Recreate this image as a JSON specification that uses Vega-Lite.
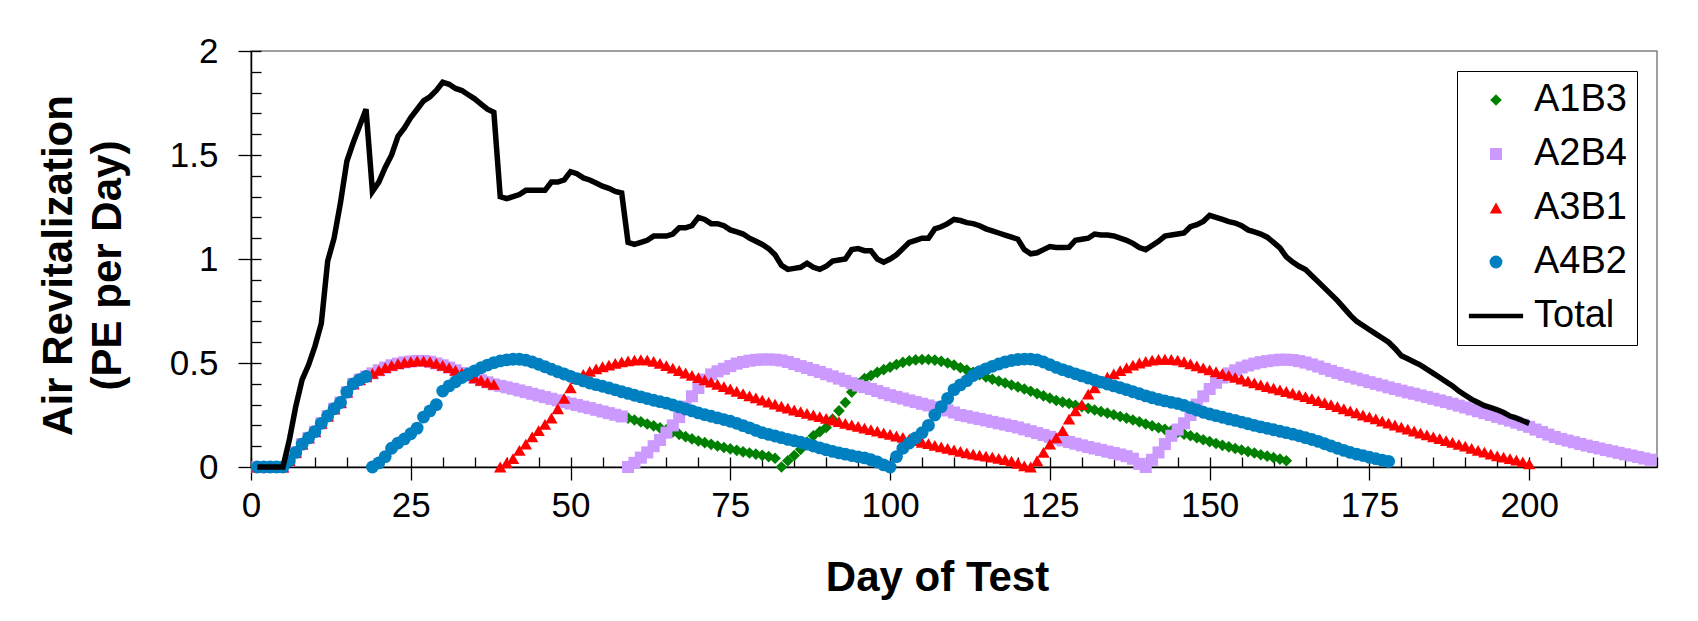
{
"$schema":"https://vega.github.io/schema/vega-lite/v6.json",
"width":1406,"height":416,
"autosize":{"type":"none"},
"padding":{"left":251,"top":51,"right":41,"bottom":154},
"background":"white",
"config":{"view":{"stroke":"#808080","strokeWidth":1.5},"font":"Liberation Sans"},
"datasets":{
"points":[
{"series":"A1B3","day":1,"value":0},{"series":"A1B3","day":2,"value":0},{"series":"A1B3","day":3,"value":0},{"series":"A1B3","day":4,"value":0},{"series":"A1B3","day":5,"value":0},{"series":"A1B3","day":6,"value":0.03},{"series":"A1B3","day":7,"value":0.07},{"series":"A1B3","day":8,"value":0.11},{"series":"A1B3","day":9,"value":0.14},{"series":"A1B3","day":10,"value":0.17},{"series":"A1B3","day":11,"value":0.21},{"series":"A1B3","day":12,"value":0.245},{"series":"A1B3","day":13,"value":0.28},{"series":"A1B3","day":14,"value":0.31},{"series":"A1B3","day":15,"value":0.36},{"series":"A1B3","day":16,"value":0.4},{"series":"A1B3","day":17,"value":0.42},{"series":"A1B3","day":18,"value":0.435},{"series":"A1B3","day":19,"value":0.45},{"series":"A1B3","day":20,"value":0.465},{"series":"A1B3","day":21,"value":0.478},{"series":"A1B3","day":22,"value":0.489},{"series":"A1B3","day":23,"value":0.497},{"series":"A1B3","day":24,"value":0.503},{"series":"A1B3","day":25,"value":0.507},{"series":"A1B3","day":26,"value":0.51},{"series":"A1B3","day":27,"value":0.51},{"series":"A1B3","day":28,"value":0.506},{"series":"A1B3","day":29,"value":0.498},{"series":"A1B3","day":30,"value":0.489},{"series":"A1B3","day":31,"value":0.478},{"series":"A1B3","day":32,"value":0.465},{"series":"A1B3","day":33,"value":0.452},{"series":"A1B3","day":34,"value":0.44},{"series":"A1B3","day":35,"value":0.428},{"series":"A1B3","day":36,"value":0.417},{"series":"A1B3","day":37,"value":0.407},{"series":"A1B3","day":38,"value":0.397},{"series":"A1B3","day":39,"value":0.39},{"series":"A1B3","day":40,"value":0.383},{"series":"A1B3","day":41,"value":0.376},{"series":"A1B3","day":42,"value":0.368},{"series":"A1B3","day":43,"value":0.36},{"series":"A1B3","day":44,"value":0.352},{"series":"A1B3","day":45,"value":0.344},{"series":"A1B3","day":46,"value":0.336},{"series":"A1B3","day":47,"value":0.328},{"series":"A1B3","day":48,"value":0.32},{"series":"A1B3","day":49,"value":0.312},{"series":"A1B3","day":50,"value":0.305},{"series":"A1B3","day":51,"value":0.298},{"series":"A1B3","day":52,"value":0.29},{"series":"A1B3","day":53,"value":0.283},{"series":"A1B3","day":54,"value":0.275},{"series":"A1B3","day":55,"value":0.267},{"series":"A1B3","day":56,"value":0.259},{"series":"A1B3","day":57,"value":0.251},{"series":"A1B3","day":58,"value":0.243},{"series":"A1B3","day":59,"value":0.235},{"series":"A1B3","day":60,"value":0.226},{"series":"A1B3","day":61,"value":0.217},{"series":"A1B3","day":62,"value":0.207},{"series":"A1B3","day":63,"value":0.198},{"series":"A1B3","day":64,"value":0.188},{"series":"A1B3","day":65,"value":0.179},{"series":"A1B3","day":66,"value":0.168},{"series":"A1B3","day":67,"value":0.157},{"series":"A1B3","day":68,"value":0.146},{"series":"A1B3","day":69,"value":0.135},{"series":"A1B3","day":70,"value":0.125},{"series":"A1B3","day":71,"value":0.117},{"series":"A1B3","day":72,"value":0.109},{"series":"A1B3","day":73,"value":0.101},{"series":"A1B3","day":74,"value":0.094},{"series":"A1B3","day":75,"value":0.087},{"series":"A1B3","day":76,"value":0.08},{"series":"A1B3","day":77,"value":0.073},{"series":"A1B3","day":78,"value":0.067},{"series":"A1B3","day":79,"value":0.062},{"series":"A1B3","day":80,"value":0.056},{"series":"A1B3","day":81,"value":0.05},{"series":"A1B3","day":82,"value":0.042},{"series":"A1B3","day":83,"value":0},{"series":"A1B3","day":84,"value":0.03},{"series":"A1B3","day":85,"value":0.055},{"series":"A1B3","day":86,"value":0.085},{"series":"A1B3","day":87,"value":0.12},{"series":"A1B3","day":88,"value":0.15},{"series":"A1B3","day":89,"value":0.17},{"series":"A1B3","day":90,"value":0.19},{"series":"A1B3","day":91,"value":0.23},{"series":"A1B3","day":92,"value":0.27},{"series":"A1B3","day":93,"value":0.31},{"series":"A1B3","day":94,"value":0.36},{"series":"A1B3","day":95,"value":0.4},{"series":"A1B3","day":96,"value":0.425},{"series":"A1B3","day":97,"value":0.44},{"series":"A1B3","day":98,"value":0.455},{"series":"A1B3","day":99,"value":0.468},{"series":"A1B3","day":100,"value":0.48},{"series":"A1B3","day":101,"value":0.493},{"series":"A1B3","day":102,"value":0.503},{"series":"A1B3","day":103,"value":0.51},{"series":"A1B3","day":104,"value":0.515},{"series":"A1B3","day":105,"value":0.517},{"series":"A1B3","day":106,"value":0.517},{"series":"A1B3","day":107,"value":0.514},{"series":"A1B3","day":108,"value":0.508},{"series":"A1B3","day":109,"value":0.5},{"series":"A1B3","day":110,"value":0.49},{"series":"A1B3","day":111,"value":0.477},{"series":"A1B3","day":112,"value":0.466},{"series":"A1B3","day":113,"value":0.455},{"series":"A1B3","day":114,"value":0.444},{"series":"A1B3","day":115,"value":0.433},{"series":"A1B3","day":116,"value":0.422},{"series":"A1B3","day":117,"value":0.413},{"series":"A1B3","day":118,"value":0.404},{"series":"A1B3","day":119,"value":0.394},{"series":"A1B3","day":120,"value":0.385},{"series":"A1B3","day":121,"value":0.375},{"series":"A1B3","day":122,"value":0.364},{"series":"A1B3","day":123,"value":0.353},{"series":"A1B3","day":124,"value":0.342},{"series":"A1B3","day":125,"value":0.331},{"series":"A1B3","day":126,"value":0.32},{"series":"A1B3","day":127,"value":0.312},{"series":"A1B3","day":128,"value":0.305},{"series":"A1B3","day":129,"value":0.297},{"series":"A1B3","day":130,"value":0.29},{"series":"A1B3","day":131,"value":0.282},{"series":"A1B3","day":132,"value":0.274},{"series":"A1B3","day":133,"value":0.266},{"series":"A1B3","day":134,"value":0.259},{"series":"A1B3","day":135,"value":0.251},{"series":"A1B3","day":136,"value":0.243},{"series":"A1B3","day":137,"value":0.235},{"series":"A1B3","day":138,"value":0.226},{"series":"A1B3","day":139,"value":0.217},{"series":"A1B3","day":140,"value":0.207},{"series":"A1B3","day":141,"value":0.198},{"series":"A1B3","day":142,"value":0.189},{"series":"A1B3","day":143,"value":0.181},{"series":"A1B3","day":144,"value":0.174},{"series":"A1B3","day":145,"value":0.166},{"series":"A1B3","day":146,"value":0.158},{"series":"A1B3","day":147,"value":0.15},{"series":"A1B3","day":148,"value":0.141},{"series":"A1B3","day":149,"value":0.131},{"series":"A1B3","day":150,"value":0.122},{"series":"A1B3","day":151,"value":0.113},{"series":"A1B3","day":152,"value":0.104},{"series":"A1B3","day":153,"value":0.097},{"series":"A1B3","day":154,"value":0.089},{"series":"A1B3","day":155,"value":0.082},{"series":"A1B3","day":156,"value":0.074},{"series":"A1B3","day":157,"value":0.067},{"series":"A1B3","day":158,"value":0.059},{"series":"A1B3","day":159,"value":0.052},{"series":"A1B3","day":160,"value":0.045},{"series":"A1B3","day":161,"value":0.038},{"series":"A1B3","day":162,"value":0.03},
{"series":"A2B4","day":1,"value":0},{"series":"A2B4","day":2,"value":0},{"series":"A2B4","day":3,"value":0},{"series":"A2B4","day":4,"value":0},{"series":"A2B4","day":5,"value":0},{"series":"A2B4","day":6,"value":0.03},{"series":"A2B4","day":7,"value":0.07},{"series":"A2B4","day":8,"value":0.11},{"series":"A2B4","day":9,"value":0.14},{"series":"A2B4","day":10,"value":0.17},{"series":"A2B4","day":11,"value":0.21},{"series":"A2B4","day":12,"value":0.245},{"series":"A2B4","day":13,"value":0.28},{"series":"A2B4","day":14,"value":0.31},{"series":"A2B4","day":15,"value":0.36},{"series":"A2B4","day":16,"value":0.4},{"series":"A2B4","day":17,"value":0.42},{"series":"A2B4","day":18,"value":0.435},{"series":"A2B4","day":19,"value":0.45},{"series":"A2B4","day":20,"value":0.465},{"series":"A2B4","day":21,"value":0.478},{"series":"A2B4","day":22,"value":0.489},{"series":"A2B4","day":23,"value":0.497},{"series":"A2B4","day":24,"value":0.503},{"series":"A2B4","day":25,"value":0.507},{"series":"A2B4","day":26,"value":0.51},{"series":"A2B4","day":27,"value":0.51},{"series":"A2B4","day":28,"value":0.506},{"series":"A2B4","day":29,"value":0.498},{"series":"A2B4","day":30,"value":0.489},{"series":"A2B4","day":31,"value":0.478},{"series":"A2B4","day":32,"value":0.465},{"series":"A2B4","day":33,"value":0.452},{"series":"A2B4","day":34,"value":0.44},{"series":"A2B4","day":35,"value":0.428},{"series":"A2B4","day":36,"value":0.417},{"series":"A2B4","day":37,"value":0.407},{"series":"A2B4","day":38,"value":0.397},{"series":"A2B4","day":39,"value":0.39},{"series":"A2B4","day":40,"value":0.383},{"series":"A2B4","day":41,"value":0.376},{"series":"A2B4","day":42,"value":0.368},{"series":"A2B4","day":43,"value":0.36},{"series":"A2B4","day":44,"value":0.352},{"series":"A2B4","day":45,"value":0.344},{"series":"A2B4","day":46,"value":0.336},{"series":"A2B4","day":47,"value":0.328},{"series":"A2B4","day":48,"value":0.32},{"series":"A2B4","day":49,"value":0.312},{"series":"A2B4","day":50,"value":0.305},{"series":"A2B4","day":51,"value":0.298},{"series":"A2B4","day":52,"value":0.29},{"series":"A2B4","day":53,"value":0.283},{"series":"A2B4","day":54,"value":0.275},{"series":"A2B4","day":55,"value":0.267},{"series":"A2B4","day":56,"value":0.259},{"series":"A2B4","day":57,"value":0.251},{"series":"A2B4","day":58,"value":0.243},{"series":"A2B4","day":59,"value":0},{"series":"A2B4","day":60,"value":0.02},{"series":"A2B4","day":61,"value":0.045},{"series":"A2B4","day":62,"value":0.07},{"series":"A2B4","day":63,"value":0.1},{"series":"A2B4","day":64,"value":0.13},{"series":"A2B4","day":65,"value":0.165},{"series":"A2B4","day":66,"value":0.2},{"series":"A2B4","day":67,"value":0.24},{"series":"A2B4","day":68,"value":0.29},{"series":"A2B4","day":69,"value":0.34},{"series":"A2B4","day":70,"value":0.38},{"series":"A2B4","day":71,"value":0.42},{"series":"A2B4","day":72,"value":0.445},{"series":"A2B4","day":73,"value":0.46},{"series":"A2B4","day":74,"value":0.472},{"series":"A2B4","day":75,"value":0.485},{"series":"A2B4","day":76,"value":0.497},{"series":"A2B4","day":77,"value":0.505},{"series":"A2B4","day":78,"value":0.511},{"series":"A2B4","day":79,"value":0.515},{"series":"A2B4","day":80,"value":0.517},{"series":"A2B4","day":81,"value":0.517},{"series":"A2B4","day":82,"value":0.516},{"series":"A2B4","day":83,"value":0.512},{"series":"A2B4","day":84,"value":0.505},{"series":"A2B4","day":85,"value":0.495},{"series":"A2B4","day":86,"value":0.485},{"series":"A2B4","day":87,"value":0.476},{"series":"A2B4","day":88,"value":0.466},{"series":"A2B4","day":89,"value":0.457},{"series":"A2B4","day":90,"value":0.446},{"series":"A2B4","day":91,"value":0.436},{"series":"A2B4","day":92,"value":0.425},{"series":"A2B4","day":93,"value":0.414},{"series":"A2B4","day":94,"value":0.403},{"series":"A2B4","day":95,"value":0.392},{"series":"A2B4","day":96,"value":0.384},{"series":"A2B4","day":97,"value":0.375},{"series":"A2B4","day":98,"value":0.365},{"series":"A2B4","day":99,"value":0.355},{"series":"A2B4","day":100,"value":0.345},{"series":"A2B4","day":101,"value":0.337},{"series":"A2B4","day":102,"value":0.329},{"series":"A2B4","day":103,"value":0.32},{"series":"A2B4","day":104,"value":0.312},{"series":"A2B4","day":105,"value":0.304},{"series":"A2B4","day":106,"value":0.296},{"series":"A2B4","day":107,"value":0.288},{"series":"A2B4","day":108,"value":0.28},{"series":"A2B4","day":109,"value":0.272},{"series":"A2B4","day":110,"value":0.262},{"series":"A2B4","day":111,"value":0.25},{"series":"A2B4","day":112,"value":0.244},{"series":"A2B4","day":113,"value":0.237},{"series":"A2B4","day":114,"value":0.231},{"series":"A2B4","day":115,"value":0.224},{"series":"A2B4","day":116,"value":0.217},{"series":"A2B4","day":117,"value":0.21},{"series":"A2B4","day":118,"value":0.204},{"series":"A2B4","day":119,"value":0.197},{"series":"A2B4","day":120,"value":0.19},{"series":"A2B4","day":121,"value":0.181},{"series":"A2B4","day":122,"value":0.172},{"series":"A2B4","day":123,"value":0.163},{"series":"A2B4","day":124,"value":0.154},{"series":"A2B4","day":125,"value":0.145},{"series":"A2B4","day":126,"value":0.136},{"series":"A2B4","day":127,"value":0.128},{"series":"A2B4","day":128,"value":0.12},{"series":"A2B4","day":129,"value":0.112},{"series":"A2B4","day":130,"value":0.104},{"series":"A2B4","day":131,"value":0.096},{"series":"A2B4","day":132,"value":0.089},{"series":"A2B4","day":133,"value":0.082},{"series":"A2B4","day":134,"value":0.074},{"series":"A2B4","day":135,"value":0.067},{"series":"A2B4","day":136,"value":0.06},{"series":"A2B4","day":137,"value":0.052},{"series":"A2B4","day":138,"value":0.04},{"series":"A2B4","day":139,"value":0.015},{"series":"A2B4","day":140,"value":0},{"series":"A2B4","day":141,"value":0.035},{"series":"A2B4","day":142,"value":0.07},{"series":"A2B4","day":143,"value":0.11},{"series":"A2B4","day":144,"value":0.15},{"series":"A2B4","day":145,"value":0.18},{"series":"A2B4","day":146,"value":0.21},{"series":"A2B4","day":147,"value":0.25},{"series":"A2B4","day":148,"value":0.3},{"series":"A2B4","day":149,"value":0.34},{"series":"A2B4","day":150,"value":0.375},{"series":"A2B4","day":151,"value":0.405},{"series":"A2B4","day":152,"value":0.43},{"series":"A2B4","day":153,"value":0.45},{"series":"A2B4","day":154,"value":0.465},{"series":"A2B4","day":155,"value":0.478},{"series":"A2B4","day":156,"value":0.488},{"series":"A2B4","day":157,"value":0.497},{"series":"A2B4","day":158,"value":0.504},{"series":"A2B4","day":159,"value":0.509},{"series":"A2B4","day":160,"value":0.513},{"series":"A2B4","day":161,"value":0.516},{"series":"A2B4","day":162,"value":0.516},{"series":"A2B4","day":163,"value":0.514},{"series":"A2B4","day":164,"value":0.509},{"series":"A2B4","day":165,"value":0.502},{"series":"A2B4","day":166,"value":0.493},{"series":"A2B4","day":167,"value":0.483},{"series":"A2B4","day":168,"value":0.472},{"series":"A2B4","day":169,"value":0.462},{"series":"A2B4","day":170,"value":0.452},{"series":"A2B4","day":171,"value":0.443},{"series":"A2B4","day":172,"value":0.434},{"series":"A2B4","day":173,"value":0.425},{"series":"A2B4","day":174,"value":0.417},{"series":"A2B4","day":175,"value":0.408},{"series":"A2B4","day":176,"value":0.4},{"series":"A2B4","day":177,"value":0.392},{"series":"A2B4","day":178,"value":0.383},{"series":"A2B4","day":179,"value":0.375},{"series":"A2B4","day":180,"value":0.367},{"series":"A2B4","day":181,"value":0.359},{"series":"A2B4","day":182,"value":0.352},{"series":"A2B4","day":183,"value":0.344},{"series":"A2B4","day":184,"value":0.336},{"series":"A2B4","day":185,"value":0.328},{"series":"A2B4","day":186,"value":0.32},{"series":"A2B4","day":187,"value":0.312},{"series":"A2B4","day":188,"value":0.304},{"series":"A2B4","day":189,"value":0.295},{"series":"A2B4","day":190,"value":0.286},{"series":"A2B4","day":191,"value":0.277},{"series":"A2B4","day":192,"value":0.268},{"series":"A2B4","day":193,"value":0.259},{"series":"A2B4","day":194,"value":0.25},{"series":"A2B4","day":195,"value":0.241},{"series":"A2B4","day":196,"value":0.232},{"series":"A2B4","day":197,"value":0.223},{"series":"A2B4","day":198,"value":0.213},{"series":"A2B4","day":199,"value":0.203},{"series":"A2B4","day":200,"value":0.193},{"series":"A2B4","day":201,"value":0.18},{"series":"A2B4","day":202,"value":0.168},{"series":"A2B4","day":203,"value":0.156},{"series":"A2B4","day":204,"value":0.144},{"series":"A2B4","day":205,"value":0.135},{"series":"A2B4","day":206,"value":0.127},{"series":"A2B4","day":207,"value":0.119},{"series":"A2B4","day":208,"value":0.111},{"series":"A2B4","day":209,"value":0.103},{"series":"A2B4","day":210,"value":0.096},{"series":"A2B4","day":211,"value":0.089},{"series":"A2B4","day":212,"value":0.082},{"series":"A2B4","day":213,"value":0.075},{"series":"A2B4","day":214,"value":0.068},{"series":"A2B4","day":215,"value":0.061},{"series":"A2B4","day":216,"value":0.055},{"series":"A2B4","day":217,"value":0.048},{"series":"A2B4","day":218,"value":0.041},{"series":"A2B4","day":219,"value":0.035},
{"series":"A3B1","day":1,"value":0},{"series":"A3B1","day":2,"value":0},{"series":"A3B1","day":3,"value":0},{"series":"A3B1","day":4,"value":0},{"series":"A3B1","day":5,"value":0},{"series":"A3B1","day":6,"value":0.03},{"series":"A3B1","day":7,"value":0.07},{"series":"A3B1","day":8,"value":0.11},{"series":"A3B1","day":9,"value":0.14},{"series":"A3B1","day":10,"value":0.17},{"series":"A3B1","day":11,"value":0.21},{"series":"A3B1","day":12,"value":0.245},{"series":"A3B1","day":13,"value":0.28},{"series":"A3B1","day":14,"value":0.31},{"series":"A3B1","day":15,"value":0.36},{"series":"A3B1","day":16,"value":0.4},{"series":"A3B1","day":17,"value":0.42},{"series":"A3B1","day":18,"value":0.435},{"series":"A3B1","day":19,"value":0.45},{"series":"A3B1","day":20,"value":0.465},{"series":"A3B1","day":21,"value":0.478},{"series":"A3B1","day":22,"value":0.489},{"series":"A3B1","day":23,"value":0.497},{"series":"A3B1","day":24,"value":0.503},{"series":"A3B1","day":25,"value":0.507},{"series":"A3B1","day":26,"value":0.51},{"series":"A3B1","day":27,"value":0.51},{"series":"A3B1","day":28,"value":0.506},{"series":"A3B1","day":29,"value":0.498},{"series":"A3B1","day":30,"value":0.489},{"series":"A3B1","day":31,"value":0.478},{"series":"A3B1","day":32,"value":0.465},{"series":"A3B1","day":33,"value":0.452},{"series":"A3B1","day":34,"value":0.44},{"series":"A3B1","day":35,"value":0.428},{"series":"A3B1","day":36,"value":0.417},{"series":"A3B1","day":37,"value":0.407},{"series":"A3B1","day":38,"value":0.397},{"series":"A3B1","day":39,"value":0},{"series":"A3B1","day":40,"value":0.02},{"series":"A3B1","day":41,"value":0.04},{"series":"A3B1","day":42,"value":0.08},{"series":"A3B1","day":43,"value":0.11},{"series":"A3B1","day":44,"value":0.145},{"series":"A3B1","day":45,"value":0.175},{"series":"A3B1","day":46,"value":0.205},{"series":"A3B1","day":47,"value":0.235},{"series":"A3B1","day":48,"value":0.28},{"series":"A3B1","day":49,"value":0.33},{"series":"A3B1","day":50,"value":0.38},{"series":"A3B1","day":51,"value":0.425},{"series":"A3B1","day":52,"value":0.445},{"series":"A3B1","day":53,"value":0.46},{"series":"A3B1","day":54,"value":0.472},{"series":"A3B1","day":55,"value":0.482},{"series":"A3B1","day":56,"value":0.49},{"series":"A3B1","day":57,"value":0.498},{"series":"A3B1","day":58,"value":0.505},{"series":"A3B1","day":59,"value":0.51},{"series":"A3B1","day":60,"value":0.514},{"series":"A3B1","day":61,"value":0.516},{"series":"A3B1","day":62,"value":0.514},{"series":"A3B1","day":63,"value":0.508},{"series":"A3B1","day":64,"value":0.498},{"series":"A3B1","day":65,"value":0.487},{"series":"A3B1","day":66,"value":0.475},{"series":"A3B1","day":67,"value":0.464},{"series":"A3B1","day":68,"value":0.452},{"series":"A3B1","day":69,"value":0.441},{"series":"A3B1","day":70,"value":0.43},{"series":"A3B1","day":71,"value":0.419},{"series":"A3B1","day":72,"value":0.408},{"series":"A3B1","day":73,"value":0.397},{"series":"A3B1","day":74,"value":0.386},{"series":"A3B1","day":75,"value":0.375},{"series":"A3B1","day":76,"value":0.364},{"series":"A3B1","day":77,"value":0.353},{"series":"A3B1","day":78,"value":0.342},{"series":"A3B1","day":79,"value":0.332},{"series":"A3B1","day":80,"value":0.322},{"series":"A3B1","day":81,"value":0.312},{"series":"A3B1","day":82,"value":0.302},{"series":"A3B1","day":83,"value":0.292},{"series":"A3B1","day":84,"value":0.283},{"series":"A3B1","day":85,"value":0.274},{"series":"A3B1","day":86,"value":0.266},{"series":"A3B1","day":87,"value":0.258},{"series":"A3B1","day":88,"value":0.25},{"series":"A3B1","day":89,"value":0.242},{"series":"A3B1","day":90,"value":0.234},{"series":"A3B1","day":91,"value":0.226},{"series":"A3B1","day":92,"value":0.218},{"series":"A3B1","day":93,"value":0.21},{"series":"A3B1","day":94,"value":0.203},{"series":"A3B1","day":95,"value":0.195},{"series":"A3B1","day":96,"value":0.187},{"series":"A3B1","day":97,"value":0.18},{"series":"A3B1","day":98,"value":0.172},{"series":"A3B1","day":99,"value":0.164},{"series":"A3B1","day":100,"value":0.157},{"series":"A3B1","day":101,"value":0.149},{"series":"A3B1","day":102,"value":0.142},{"series":"A3B1","day":103,"value":0.134},{"series":"A3B1","day":104,"value":0.127},{"series":"A3B1","day":105,"value":0.119},{"series":"A3B1","day":106,"value":0.112},{"series":"A3B1","day":107,"value":0.104},{"series":"A3B1","day":108,"value":0.097},{"series":"A3B1","day":109,"value":0.09},{"series":"A3B1","day":110,"value":0.082},{"series":"A3B1","day":111,"value":0.075},{"series":"A3B1","day":112,"value":0.068},{"series":"A3B1","day":113,"value":0.062},{"series":"A3B1","day":114,"value":0.057},{"series":"A3B1","day":115,"value":0.052},{"series":"A3B1","day":116,"value":0.047},{"series":"A3B1","day":117,"value":0.041},{"series":"A3B1","day":118,"value":0.035},{"series":"A3B1","day":119,"value":0.028},{"series":"A3B1","day":120,"value":0.018},{"series":"A3B1","day":121,"value":0.005},{"series":"A3B1","day":122,"value":0},{"series":"A3B1","day":123,"value":0.03},{"series":"A3B1","day":124,"value":0.07},{"series":"A3B1","day":125,"value":0.11},{"series":"A3B1","day":126,"value":0.14},{"series":"A3B1","day":127,"value":0.175},{"series":"A3B1","day":128,"value":0.23},{"series":"A3B1","day":129,"value":0.27},{"series":"A3B1","day":130,"value":0.3},{"series":"A3B1","day":131,"value":0.35},{"series":"A3B1","day":132,"value":0.38},{"series":"A3B1","day":133,"value":0.41},{"series":"A3B1","day":134,"value":0.432},{"series":"A3B1","day":135,"value":0.448},{"series":"A3B1","day":136,"value":0.463},{"series":"A3B1","day":137,"value":0.477},{"series":"A3B1","day":138,"value":0.49},{"series":"A3B1","day":139,"value":0.5},{"series":"A3B1","day":140,"value":0.508},{"series":"A3B1","day":141,"value":0.514},{"series":"A3B1","day":142,"value":0.517},{"series":"A3B1","day":143,"value":0.518},{"series":"A3B1","day":144,"value":0.517},{"series":"A3B1","day":145,"value":0.514},{"series":"A3B1","day":146,"value":0.506},{"series":"A3B1","day":147,"value":0.496},{"series":"A3B1","day":148,"value":0.486},{"series":"A3B1","day":149,"value":0.477},{"series":"A3B1","day":150,"value":0.467},{"series":"A3B1","day":151,"value":0.458},{"series":"A3B1","day":152,"value":0.449},{"series":"A3B1","day":153,"value":0.44},{"series":"A3B1","day":154,"value":0.431},{"series":"A3B1","day":155,"value":0.422},{"series":"A3B1","day":156,"value":0.413},{"series":"A3B1","day":157,"value":0.404},{"series":"A3B1","day":158,"value":0.395},{"series":"A3B1","day":159,"value":0.387},{"series":"A3B1","day":160,"value":0.379},{"series":"A3B1","day":161,"value":0.371},{"series":"A3B1","day":162,"value":0.363},{"series":"A3B1","day":163,"value":0.355},{"series":"A3B1","day":164,"value":0.347},{"series":"A3B1","day":165,"value":0.338},{"series":"A3B1","day":166,"value":0.329},{"series":"A3B1","day":167,"value":0.319},{"series":"A3B1","day":168,"value":0.309},{"series":"A3B1","day":169,"value":0.3},{"series":"A3B1","day":170,"value":0.29},{"series":"A3B1","day":171,"value":0.28},{"series":"A3B1","day":172,"value":0.27},{"series":"A3B1","day":173,"value":0.26},{"series":"A3B1","day":174,"value":0.25},{"series":"A3B1","day":175,"value":0.241},{"series":"A3B1","day":176,"value":0.231},{"series":"A3B1","day":177,"value":0.221},{"series":"A3B1","day":178,"value":0.211},{"series":"A3B1","day":179,"value":0.202},{"series":"A3B1","day":180,"value":0.192},{"series":"A3B1","day":181,"value":0.182},{"series":"A3B1","day":182,"value":0.173},{"series":"A3B1","day":183,"value":0.163},{"series":"A3B1","day":184,"value":0.154},{"series":"A3B1","day":185,"value":0.145},{"series":"A3B1","day":186,"value":0.136},{"series":"A3B1","day":187,"value":0.127},{"series":"A3B1","day":188,"value":0.118},{"series":"A3B1","day":189,"value":0.109},{"series":"A3B1","day":190,"value":0.1},{"series":"A3B1","day":191,"value":0.09},{"series":"A3B1","day":192,"value":0.08},{"series":"A3B1","day":193,"value":0.071},{"series":"A3B1","day":194,"value":0.062},{"series":"A3B1","day":195,"value":0.054},{"series":"A3B1","day":196,"value":0.047},{"series":"A3B1","day":197,"value":0.04},{"series":"A3B1","day":198,"value":0.033},{"series":"A3B1","day":199,"value":0.025},{"series":"A3B1","day":200,"value":0.015},
{"series":"A4B2","day":1,"value":0},{"series":"A4B2","day":2,"value":0},{"series":"A4B2","day":3,"value":0},{"series":"A4B2","day":4,"value":0},{"series":"A4B2","day":5,"value":0},{"series":"A4B2","day":6,"value":0.03},{"series":"A4B2","day":7,"value":0.07},{"series":"A4B2","day":8,"value":0.11},{"series":"A4B2","day":9,"value":0.14},{"series":"A4B2","day":10,"value":0.17},{"series":"A4B2","day":11,"value":0.21},{"series":"A4B2","day":12,"value":0.245},{"series":"A4B2","day":13,"value":0.28},{"series":"A4B2","day":14,"value":0.31},{"series":"A4B2","day":15,"value":0.36},{"series":"A4B2","day":16,"value":0.4},{"series":"A4B2","day":17,"value":0.42},{"series":"A4B2","day":18,"value":0.435},{"series":"A4B2","day":19,"value":0},{"series":"A4B2","day":20,"value":0.02},{"series":"A4B2","day":21,"value":0.05},{"series":"A4B2","day":22,"value":0.09},{"series":"A4B2","day":23,"value":0.115},{"series":"A4B2","day":24,"value":0.135},{"series":"A4B2","day":25,"value":0.16},{"series":"A4B2","day":26,"value":0.187},{"series":"A4B2","day":27,"value":0.24},{"series":"A4B2","day":28,"value":0.27},{"series":"A4B2","day":29,"value":0.3},{"series":"A4B2","day":30,"value":0.365},{"series":"A4B2","day":31,"value":0.39},{"series":"A4B2","day":32,"value":0.41},{"series":"A4B2","day":33,"value":0.43},{"series":"A4B2","day":34,"value":0.447},{"series":"A4B2","day":35,"value":0.462},{"series":"A4B2","day":36,"value":0.477},{"series":"A4B2","day":37,"value":0.49},{"series":"A4B2","day":38,"value":0.502},{"series":"A4B2","day":39,"value":0.51},{"series":"A4B2","day":40,"value":0.515},{"series":"A4B2","day":41,"value":0.518},{"series":"A4B2","day":42,"value":0.518},{"series":"A4B2","day":43,"value":0.514},{"series":"A4B2","day":44,"value":0.505},{"series":"A4B2","day":45,"value":0.494},{"series":"A4B2","day":46,"value":0.482},{"series":"A4B2","day":47,"value":0.47},{"series":"A4B2","day":48,"value":0.458},{"series":"A4B2","day":49,"value":0.447},{"series":"A4B2","day":50,"value":0.436},{"series":"A4B2","day":51,"value":0.425},{"series":"A4B2","day":52,"value":0.414},{"series":"A4B2","day":53,"value":0.404},{"series":"A4B2","day":54,"value":0.396},{"series":"A4B2","day":55,"value":0.388},{"series":"A4B2","day":56,"value":0.38},{"series":"A4B2","day":57,"value":0.371},{"series":"A4B2","day":58,"value":0.362},{"series":"A4B2","day":59,"value":0.354},{"series":"A4B2","day":60,"value":0.345},{"series":"A4B2","day":61,"value":0.337},{"series":"A4B2","day":62,"value":0.329},{"series":"A4B2","day":63,"value":0.321},{"series":"A4B2","day":64,"value":0.314},{"series":"A4B2","day":65,"value":0.307},{"series":"A4B2","day":66,"value":0.298},{"series":"A4B2","day":67,"value":0.289},{"series":"A4B2","day":68,"value":0.279},{"series":"A4B2","day":69,"value":0.27},{"series":"A4B2","day":70,"value":0.26},{"series":"A4B2","day":71,"value":0.252},{"series":"A4B2","day":72,"value":0.244},{"series":"A4B2","day":73,"value":0.236},{"series":"A4B2","day":74,"value":0.228},{"series":"A4B2","day":75,"value":0.22},{"series":"A4B2","day":76,"value":0.21},{"series":"A4B2","day":77,"value":0.199},{"series":"A4B2","day":78,"value":0.188},{"series":"A4B2","day":79,"value":0.176},{"series":"A4B2","day":80,"value":0.165},{"series":"A4B2","day":81,"value":0.157},{"series":"A4B2","day":82,"value":0.149},{"series":"A4B2","day":83,"value":0.141},{"series":"A4B2","day":84,"value":0.133},{"series":"A4B2","day":85,"value":0.126},{"series":"A4B2","day":86,"value":0.119},{"series":"A4B2","day":87,"value":0.11},{"series":"A4B2","day":88,"value":0.101},{"series":"A4B2","day":89,"value":0.092},{"series":"A4B2","day":90,"value":0.083},{"series":"A4B2","day":91,"value":0.075},{"series":"A4B2","day":92,"value":0.068},{"series":"A4B2","day":93,"value":0.062},{"series":"A4B2","day":94,"value":0.055},{"series":"A4B2","day":95,"value":0.049},{"series":"A4B2","day":96,"value":0.044},{"series":"A4B2","day":97,"value":0.035},{"series":"A4B2","day":98,"value":0.024},{"series":"A4B2","day":99,"value":0.01},{"series":"A4B2","day":100,"value":0},{"series":"A4B2","day":101,"value":0.05},{"series":"A4B2","day":102,"value":0.09},{"series":"A4B2","day":103,"value":0.115},{"series":"A4B2","day":104,"value":0.14},{"series":"A4B2","day":105,"value":0.165},{"series":"A4B2","day":106,"value":0.2},{"series":"A4B2","day":107,"value":0.25},{"series":"A4B2","day":108,"value":0.29},{"series":"A4B2","day":109,"value":0.33},{"series":"A4B2","day":110,"value":0.372},{"series":"A4B2","day":111,"value":0.395},{"series":"A4B2","day":112,"value":0.415},{"series":"A4B2","day":113,"value":0.44},{"series":"A4B2","day":114,"value":0.458},{"series":"A4B2","day":115,"value":0.472},{"series":"A4B2","day":116,"value":0.484},{"series":"A4B2","day":117,"value":0.495},{"series":"A4B2","day":118,"value":0.505},{"series":"A4B2","day":119,"value":0.512},{"series":"A4B2","day":120,"value":0.517},{"series":"A4B2","day":121,"value":0.519},{"series":"A4B2","day":122,"value":0.519},{"series":"A4B2","day":123,"value":0.515},{"series":"A4B2","day":124,"value":0.505},{"series":"A4B2","day":125,"value":0.492},{"series":"A4B2","day":126,"value":0.479},{"series":"A4B2","day":127,"value":0.468},{"series":"A4B2","day":128,"value":0.458},{"series":"A4B2","day":129,"value":0.448},{"series":"A4B2","day":130,"value":0.438},{"series":"A4B2","day":131,"value":0.428},{"series":"A4B2","day":132,"value":0.418},{"series":"A4B2","day":133,"value":0.408},{"series":"A4B2","day":134,"value":0.399},{"series":"A4B2","day":135,"value":0.39},{"series":"A4B2","day":136,"value":0.381},{"series":"A4B2","day":137,"value":0.372},{"series":"A4B2","day":138,"value":0.362},{"series":"A4B2","day":139,"value":0.352},{"series":"A4B2","day":140,"value":0.342},{"series":"A4B2","day":141,"value":0.333},{"series":"A4B2","day":142,"value":0.325},{"series":"A4B2","day":143,"value":0.318},{"series":"A4B2","day":144,"value":0.311},{"series":"A4B2","day":145,"value":0.305},{"series":"A4B2","day":146,"value":0.296},{"series":"A4B2","day":147,"value":0.285},{"series":"A4B2","day":148,"value":0.274},{"series":"A4B2","day":149,"value":0.263},{"series":"A4B2","day":150,"value":0.255},{"series":"A4B2","day":151,"value":0.247},{"series":"A4B2","day":152,"value":0.239},{"series":"A4B2","day":153,"value":0.231},{"series":"A4B2","day":154,"value":0.224},{"series":"A4B2","day":155,"value":0.216},{"series":"A4B2","day":156,"value":0.208},{"series":"A4B2","day":157,"value":0.2},{"series":"A4B2","day":158,"value":0.193},{"series":"A4B2","day":159,"value":0.186},{"series":"A4B2","day":160,"value":0.179},{"series":"A4B2","day":161,"value":0.172},{"series":"A4B2","day":162,"value":0.165},{"series":"A4B2","day":163,"value":0.158},{"series":"A4B2","day":164,"value":0.15},{"series":"A4B2","day":165,"value":0.141},{"series":"A4B2","day":166,"value":0.132},{"series":"A4B2","day":167,"value":0.123},{"series":"A4B2","day":168,"value":0.112},{"series":"A4B2","day":169,"value":0.101},{"series":"A4B2","day":170,"value":0.09},{"series":"A4B2","day":171,"value":0.08},{"series":"A4B2","day":172,"value":0.07},{"series":"A4B2","day":173,"value":0.062},{"series":"A4B2","day":174,"value":0.055},{"series":"A4B2","day":175,"value":0.047},{"series":"A4B2","day":176,"value":0.04},{"series":"A4B2","day":177,"value":0.033},{"series":"A4B2","day":178,"value":0.027}
],
"total":[
{"day":1,"value":0},{"day":2,"value":0},{"day":3,"value":0},{"day":4,"value":0},{"day":5,"value":0},{"day":6,"value":0.13},{"day":7,"value":0.29},{"day":8,"value":0.42},{"day":9,"value":0.49},{"day":10,"value":0.58},{"day":11,"value":0.69},{"day":12,"value":0.99},{"day":13,"value":1.1},{"day":14,"value":1.27},{"day":15,"value":1.47},{"day":16,"value":1.56},{"day":17,"value":1.64},{"day":18,"value":1.72},{"day":19,"value":1.325},{"day":20,"value":1.37},{"day":21,"value":1.44},{"day":22,"value":1.5},{"day":23,"value":1.59},{"day":24,"value":1.63},{"day":25,"value":1.68},{"day":26,"value":1.72},{"day":27,"value":1.76},{"day":28,"value":1.78},{"day":29,"value":1.81},{"day":30,"value":1.85},{"day":31,"value":1.84},{"day":32,"value":1.82},{"day":33,"value":1.81},{"day":34,"value":1.79},{"day":35,"value":1.77},{"day":36,"value":1.745},{"day":37,"value":1.72},{"day":38,"value":1.705},{"day":39,"value":1.3},{"day":40,"value":1.29},{"day":41,"value":1.3},{"day":42,"value":1.31},{"day":43,"value":1.33},{"day":44,"value":1.33},{"day":45,"value":1.33},{"day":46,"value":1.33},{"day":47,"value":1.37},{"day":48,"value":1.37},{"day":49,"value":1.38},{"day":50,"value":1.42},{"day":51,"value":1.41},{"day":52,"value":1.39},{"day":53,"value":1.38},{"day":54,"value":1.365},{"day":55,"value":1.35},{"day":56,"value":1.34},{"day":57,"value":1.325},{"day":58,"value":1.317},{"day":59,"value":1.08},{"day":60,"value":1.07},{"day":61,"value":1.08},{"day":62,"value":1.09},{"day":63,"value":1.11},{"day":64,"value":1.11},{"day":65,"value":1.11},{"day":66,"value":1.12},{"day":67,"value":1.15},{"day":68,"value":1.15},{"day":69,"value":1.16},{"day":70,"value":1.2},{"day":71,"value":1.19},{"day":72,"value":1.17},{"day":73,"value":1.17},{"day":74,"value":1.16},{"day":75,"value":1.14},{"day":76,"value":1.13},{"day":77,"value":1.12},{"day":78,"value":1.1},{"day":79,"value":1.085},{"day":80,"value":1.07},{"day":81,"value":1.05},{"day":82,"value":1.02},{"day":83,"value":0.97},{"day":84,"value":0.95},{"day":85,"value":0.955},{"day":86,"value":0.96},{"day":87,"value":0.98},{"day":88,"value":0.96},{"day":89,"value":0.95},{"day":90,"value":0.965},{"day":91,"value":0.99},{"day":92,"value":0.995},{"day":93,"value":1.0},{"day":94,"value":1.045},{"day":95,"value":1.05},{"day":96,"value":1.04},{"day":97,"value":1.04},{"day":98,"value":1.0},{"day":99,"value":0.985},{"day":100,"value":1.0},{"day":101,"value":1.02},{"day":102,"value":1.05},{"day":103,"value":1.08},{"day":104,"value":1.09},{"day":105,"value":1.1},{"day":106,"value":1.1},{"day":107,"value":1.145},{"day":108,"value":1.155},{"day":109,"value":1.17},{"day":110,"value":1.19},{"day":111,"value":1.185},{"day":112,"value":1.175},{"day":113,"value":1.17},{"day":114,"value":1.16},{"day":115,"value":1.145},{"day":116,"value":1.135},{"day":117,"value":1.125},{"day":118,"value":1.115},{"day":119,"value":1.105},{"day":120,"value":1.095},{"day":121,"value":1.045},{"day":122,"value":1.025},{"day":123,"value":1.03},{"day":124,"value":1.045},{"day":125,"value":1.06},{"day":126,"value":1.055},{"day":127,"value":1.055},{"day":128,"value":1.056},{"day":129,"value":1.09},{"day":130,"value":1.095},{"day":131,"value":1.1},{"day":132,"value":1.12},{"day":133,"value":1.115},{"day":134,"value":1.115},{"day":135,"value":1.111},{"day":136,"value":1.1},{"day":137,"value":1.09},{"day":138,"value":1.075},{"day":139,"value":1.055},{"day":140,"value":1.045},{"day":141,"value":1.065},{"day":142,"value":1.085},{"day":143,"value":1.11},{"day":144,"value":1.115},{"day":145,"value":1.12},{"day":146,"value":1.125},{"day":147,"value":1.155},{"day":148,"value":1.165},{"day":149,"value":1.18},{"day":150,"value":1.21},{"day":151,"value":1.2},{"day":152,"value":1.19},{"day":153,"value":1.18},{"day":154,"value":1.173},{"day":155,"value":1.16},{"day":156,"value":1.14},{"day":157,"value":1.13},{"day":158,"value":1.12},{"day":159,"value":1.105},{"day":160,"value":1.08},{"day":161,"value":1.053},{"day":162,"value":1.01},{"day":163,"value":0.985},{"day":164,"value":0.965},{"day":165,"value":0.949},{"day":166,"value":0.92},{"day":167,"value":0.89},{"day":168,"value":0.86},{"day":169,"value":0.83},{"day":170,"value":0.8},{"day":171,"value":0.765},{"day":172,"value":0.73},{"day":173,"value":0.7},{"day":174,"value":0.68},{"day":175,"value":0.66},{"day":176,"value":0.64},{"day":177,"value":0.62},{"day":178,"value":0.6},{"day":179,"value":0.57},{"day":180,"value":0.535},{"day":181,"value":0.52},{"day":182,"value":0.505},{"day":183,"value":0.49},{"day":184,"value":0.47},{"day":185,"value":0.45},{"day":186,"value":0.43},{"day":187,"value":0.41},{"day":188,"value":0.39},{"day":189,"value":0.365},{"day":190,"value":0.345},{"day":191,"value":0.325},{"day":192,"value":0.31},{"day":193,"value":0.295},{"day":194,"value":0.285},{"day":195,"value":0.275},{"day":196,"value":0.262},{"day":197,"value":0.245},{"day":198,"value":0.235},{"day":199,"value":0.222},{"day":200,"value":0.21}
]
},
"layer":[
{
"data":{"name":"points"},
"mark":{"type":"point","filled":true,"opacity":1,"strokeWidth":0},
"encoding":{
"x":{"field":"day","type":"quantitative","scale":{"domain":[0,220],"nice":false,"zero":false},
"axis":{"orient":"bottom","values":[0,25,50,75,100,125,150,175,200],"format":"d","grid":false,"tickSize":13,"tickColor":"black","tickWidth":1.3,"domainColor":"black","domainWidth":1.5,"labelFont":"Liberation Sans","labelFontSize":35,"labelColor":"black","labelPadding":8,"labelFlush":false,"labelOverlap":false,"title":"Day of Test","titleFont":"Liberation Sans","titleFontSize":42,"titleFontWeight":"bold","titleColor":"black","titlePadding":34,"titleX":686}},
"y":{"field":"value","type":"quantitative","scale":{"domain":[0,2],"nice":false},
"axis":{"orient":"left","values":[0,0.5,1,1.5,2],"format":"~g","grid":false,"tickSize":13,"tickColor":"black","tickWidth":1.3,"domainColor":"black","domainWidth":1.5,"labelFont":"Liberation Sans","labelFontSize":35,"labelColor":"black","labelPadding":20,"labelFlush":false,"labelOverlap":false,"title":["Air Revitalization","(PE per Day)"],"titleFont":"Liberation Sans","titleFontSize":42,"titleFontWeight":"bold","titleColor":"black","titleLineHeight":49,"titlePadding":40,"titleY":214}},
"color":{"field":"series","type":"nominal","scale":{"domain":["A1B3","A2B4","A3B1","A4B2","Total"],"range":["#008000","#CC99FF","#FF0000","#0080C0","#000000"]},
"legend":{"title":null,"orient":"top-right","offset":20,"padding":10,"strokeColor":"black","fillColor":"white","labelFont":"Liberation Sans","labelFontSize":38,"labelColor":"black","labelLimit":300,"symbolSize":196,"symbolOffset":10,"labelOffset":19,"rowPadding":16}},
"shape":{"field":"series","type":"nominal","scale":{"domain":["A1B3","A2B4","A3B1","A4B2","Total"],"range":["diamond","square","triangle-up","circle","M-4.1,-0.35H4.1V0.35H-4.1Z"]},
"legend":{"title":null,"orient":"top-right","offset":20,"padding":10,"strokeColor":"black","fillColor":"white","labelFont":"Liberation Sans","labelFontSize":38,"labelColor":"black","labelLimit":300,"symbolSize":196,"symbolOffset":10,"labelOffset":19,"rowPadding":16}},
"size":{"field":"series","type":"nominal","scale":{"domain":["A1B3","A2B4","A3B1","A4B2","Total"],"range":[135,175,190,160,100]},"legend":null}
}
},
{
"data":{"name":"total"},
"mark":{"type":"line","color":"black","strokeWidth":5.5},
"encoding":{
"x":{"field":"day","type":"quantitative","scale":{"domain":[0,220],"nice":false,"zero":false},
"axis":{"orient":"bottom","values":[0,5,10,15,20,25,30,35,40,45,50,55,60,65,70,75,80,85,90,95,100,105,110,115,120,125,130,135,140,145,150,155,160,165,170,175,180,185,190,195,200,205,210,215,220],"labels":false,"domain":false,"grid":false,"tickSize":-10,"tickColor":"black","tickWidth":1.3,"title":null}},
"y":{"field":"value","type":"quantitative","scale":{"domain":[0,2],"nice":false},
"axis":{"orient":"left","values":[0,0.1,0.2,0.3,0.4,0.5,0.6,0.7,0.8,0.9,1,1.1,1.2,1.3,1.4,1.5,1.6,1.7,1.8,1.9,2],"labels":false,"domain":false,"grid":false,"tickSize":-10,"tickColor":"black","tickWidth":1.3,"title":null}}
}
}
],
"resolve":{"axis":{"x":"independent","y":"independent"}}
}
